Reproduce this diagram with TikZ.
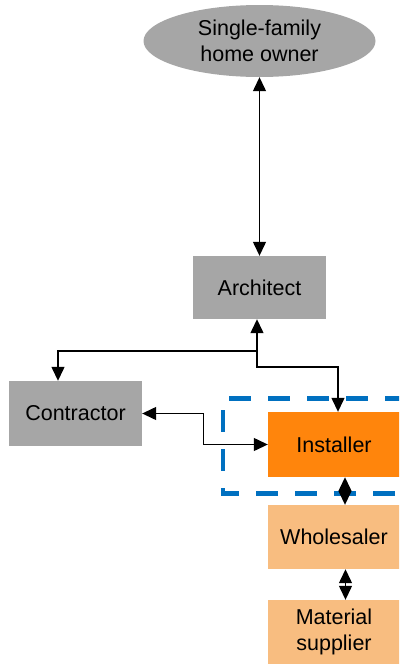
\documentclass[tikz,border=0pt]{standalone}
\usepackage{fontspec}
\setmainfont{Liberation Sans}
\usetikzlibrary{shapes.geometric,arrows.meta}
\definecolor{boxgray}{RGB}{166,166,166}
\definecolor{instorange}{RGB}{255,133,12}
\definecolor{lightorange}{RGB}{248,189,128}
\definecolor{framblue}{RGB}{0,112,192}
\tikzset{
  actor/.style={draw=none, inner sep=0pt, align=center, text=black,
    font=\fontsize{21.5}{26}\selectfont},
  graybox/.style={actor, rectangle, fill=boxgray},
  link/.style={line width=1.3pt, -{Triangle[length=14pt,width=13pt]}},
  duallink/.style={line width=1.3pt, {Triangle[length=14pt,width=13pt]}-{Triangle[length=14pt,width=13pt]}},
  groupframe/.style={draw=framblue, line width=4.6pt, dash pattern=on 22pt off 17pt, dash phase=16pt, line join=miter}
}
\begin{document}
\begin{tikzpicture}[x=1pt,y=-1pt]
\useasboundingbox (0,0) rectangle (399,664);
\clip (0,0) rectangle (399,664);
% group frame
\draw[groupframe] (418,493.5) -- (223,493.5) -- (223,398.5) -- (418,398.5);
% nodes
\node[actor, ellipse, fill=boxgray, minimum width=232pt, minimum height=72pt] (owner) at (259.5,41) {Single-family\\home owner};
\node[graybox, minimum width=133pt, minimum height=63pt] (arch) at (259.5,287.5) {Architect};
\node[graybox, minimum width=133pt, minimum height=65pt] (contr) at (75.5,413.5) {Contractor};
\node[actor, rectangle, fill=instorange, minimum width=132pt, minimum height=65pt] (inst) at (334,444.5) {Installer};
\node[actor, rectangle, fill=lightorange, minimum width=132pt, minimum height=64pt] (whole) at (334,537) {Wholesaler};
\node[actor, rectangle, fill=lightorange, minimum width=132pt, minimum height=64pt] (mat) at (334,632) {Material\\supplier};
% connectors
\draw[duallink] (owner.south) -- (arch.north);
\coordinate (junc) at (257,351);
\draw[link] (junc) -- (junc |- arch.south);
\draw[link] (junc) -| ([xshift=-17.5pt]contr.north);
\draw[link] (junc) -- ++(0,16) -| ([xshift=4pt]inst.north);
\draw[duallink] (contr.east) -- ++(61,0) |- (inst.west);
\draw[duallink] ([xshift=11pt]inst.south) -- ([xshift=11pt]whole.north);
\draw[duallink] ([xshift=11.5pt]whole.south) -- ([xshift=11.5pt]mat.north);
\end{tikzpicture}
\end{document}
